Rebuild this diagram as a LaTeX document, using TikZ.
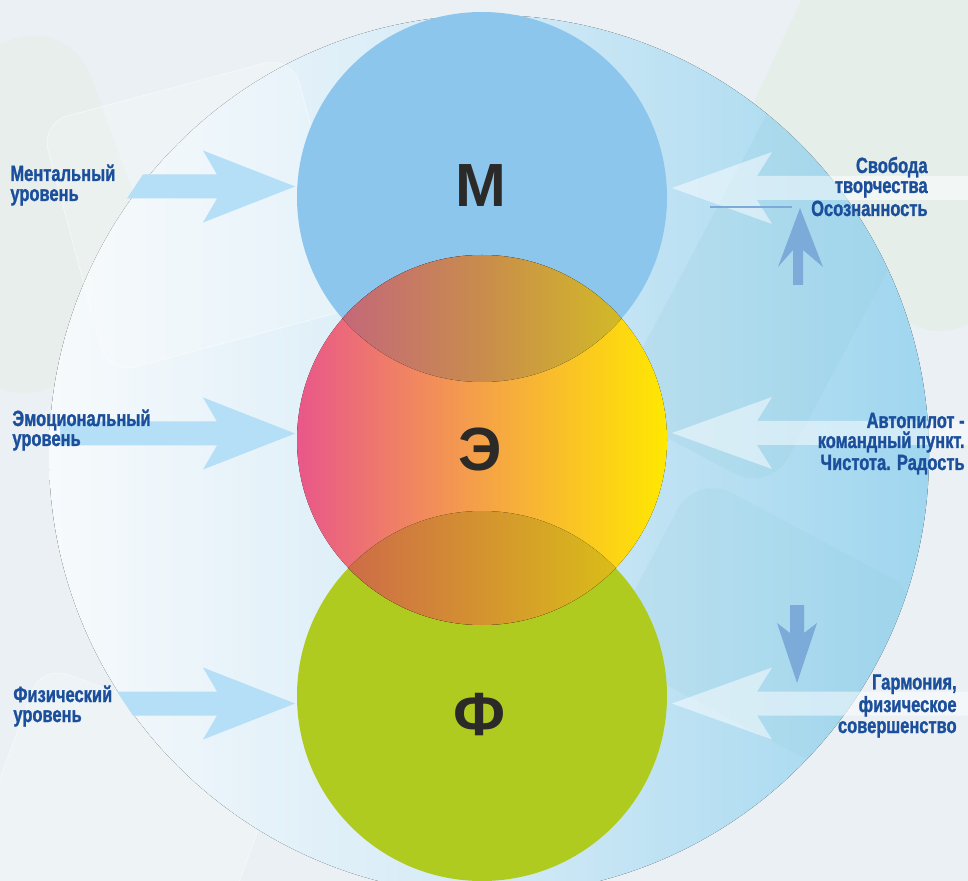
\documentclass[tikz,border=0pt]{standalone}
\usepackage{fontspec}
\newfontfamily\lblfont[FakeStretch=0.75,FakeBold=1.2]{Liberation Sans Bold}
\newfontfamily\letfont{Liberation Sans Bold}
\usetikzlibrary{positioning}

\definecolor{bgbase}{HTML}{EAF0F4}
\definecolor{bggreen}{HTML}{E3EDE2}
\definecolor{bigleft}{HTML}{F7FAFC}
\definecolor{bigmid}{HTML}{D3EAF6}
\definecolor{bigright}{HTML}{9FD6EF}
\definecolor{cyanband}{HTML}{8FCAD8}
\definecolor{mblue}{HTML}{8DC6EC}
\definecolor{epink}{HTML}{E9578A}
\definecolor{eorange}{HTML}{F5A247}
\definecolor{eyellow}{HTML}{FFE800}
\definecolor{fgreen}{HTML}{B0CB1F}
\definecolor{uplensL}{HTML}{C4687A}
\definecolor{uplensM}{HTML}{C98C4C}
\definecolor{uplensR}{HTML}{D2BA26}
\definecolor{lolensL}{HTML}{CD6C48}
\definecolor{lolensM}{HTML}{D4932F}
\definecolor{lolensR}{HTML}{D9BD18}
\definecolor{inblue}{HTML}{B5DEF7}
\definecolor{vblue}{HTML}{7CAAD9}
\definecolor{lbltext}{HTML}{1B4F9C}
\definecolor{lettext}{HTML}{2B2A29}

\tikzset{
  lbl/.style={font=\lblfont\fontsize{11}{10}\selectfont,text=lbltext,inner sep=0pt},
  letter/.style={font=\letfont\fontsize{30.5}{30}\selectfont,text=lettext,inner sep=0pt,anchor=base},
  inarrow/.style={fill=inblue},
  outarrow/.style={fill=white,fill opacity=.5},
  vertarrow/.style={fill=vblue},
  decor/.style={rounded corners=14pt,fill=white,fill opacity=.2,draw=white,draw opacity=.5}
}

\begin{document}
\begin{tikzpicture}[x=0.5pt,y=-0.5pt]
\fill[bgbase] (0,0) rectangle (968,881);
\useasboundingbox (0,0) rectangle (968,881);
\begin{scope}
\clip (0,0) rectangle (968,881);
\fill[bggreen,opacity=.6,rounded corners=30pt,rotate around={-25:(900,120)}] (760,-60) rectangle (1060,300);
\fill[bggreen,opacity=.4,rounded corners=30pt,rotate around={20:(40,200)}] (-80,40) rectangle (130,380);
\fill[decor,rotate around={15:(200,215)}] (70,85) rectangle (330,345);
\fill[decor,rotate around={-20:(120,800)}] (0,700) rectangle (260,920);
\fill[left color=bigleft,right color=bigright,middle color=bigmid] (489,455) circle (440);
\clip (489,455) circle (440);
\fill[cyanband,opacity=.18,rounded corners=20pt,rotate around={-28:(780,260)}] (700,60) rectangle (880,470);
\fill[cyanband,opacity=.15,rounded corners=20pt,rotate around={-28:(760,610)}] (640,520) rectangle (900,720);
\fill[decor,rotate around={15:(200,215)}] (70,85) rectangle (330,345);
\end{scope}

\coordinate (cM) at (482,197);
\coordinate (cE) at (482,440);
\coordinate (cF) at (482,696);

\fill[mblue] (cM) circle (185);
\fill[fgreen] (cF) circle (185);
\fill[left color=epink,right color=eyellow,middle color=eorange] (cE) circle (185);
\begin{scope}
\clip (cM) circle (185);
\clip (cE) circle (185);
\fill[left color=uplensL,right color=uplensR,middle color=uplensM] (342,250) rectangle (623,385);
\end{scope}
\begin{scope}
\clip (cE) circle (185);
\clip (cF) circle (185);
\fill[left color=lolensL,right color=lolensR,middle color=lolensM] (348,505) rectangle (617,630);
\end{scope}

\node[letter] (lM) at (481,207) {М};
\node[letter] (lE) at (480,471) {Э};
\node[letter] (lF) at (480,735) {Ф};

\foreach \ty/\lt/\lb in {186.5/143/127, 433.5/60/60, 703.5/117/133}
  \fill[inarrow] (\lt,\ty-12) -- (217,\ty-12) -- (203,\ty-36) -- (295,\ty) -- (203,\ty+36) -- (217,\ty+12) -- (\lb,\ty+12) -- cycle;

\foreach \ty in {188,433,703.5}
  \fill[outarrow] (672,\ty) -- (772,\ty-36) -- (757,\ty-12) -- (968,\ty-12) -- (968,\ty+12) -- (757,\ty+12) -- (772,\ty+36) -- cycle;

\fill[vertarrow] (800,208) -- (823,267) -- (803,250) -- (803,285) -- (793,285) -- (793,250) -- (778,267) -- cycle;
\fill[vertarrow] (790,605) -- (804,605) -- (804,633) -- (817,623) -- (797,683) -- (777,623) -- (790,633) -- cycle;
\draw[vblue,line width=0.6pt] (710,207) -- (792,207);

\node[lbl,anchor=base west,align=left] (lMent) at (10,201) {Ментальный\\уровень};
\node[lbl,anchor=base west,align=left] (lEmo) at (12,446) {Эмоциональный\\уровень};
\node[lbl,anchor=base west,align=left] (lFiz) at (13,722) {Физический\\уровень};
\node[lbl,anchor=base east,align=right] (rSvob) at (928,216) {Свобода\\творчества\\[1.5pt]Осознанность};
\node[lbl,anchor=base east,align=right] (rAvto) at (965,470) {Автопилот -\\командный пункт.\\[1pt]Чистота. Радость};
\node[lbl,anchor=base east,align=right] (rGarm) at (957,733) {Гармония,\\физическое\\[0.5pt]совершенство};
\end{tikzpicture}
\end{document}
